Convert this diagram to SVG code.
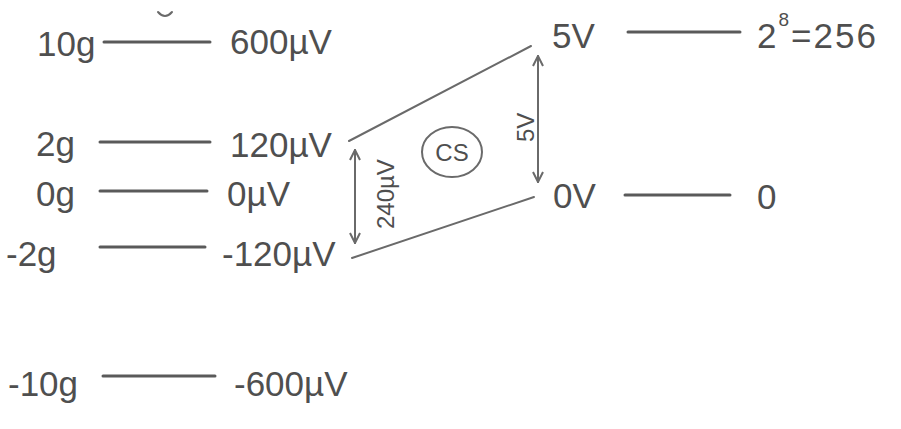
<svg xmlns="http://www.w3.org/2000/svg" width="901" height="429" viewBox="0 0 901 429">
<defs>
<style>
.t{font-family:"Liberation Sans","DejaVu Sans",sans-serif;fill:#4f4f4f;font-size:35px}
.s{font-family:"Liberation Sans","DejaVu Sans",sans-serif;fill:#4f4f4f;font-size:24px}
.ln{stroke:#5a5a5a;stroke-width:3;fill:none;stroke-linecap:round}
.th{stroke:#6a6a6a;stroke-width:2;fill:none;stroke-linecap:round}
</style>
<marker id="ah" viewBox="0 0 12 12" refX="11" refY="6" markerWidth="12" markerHeight="12" markerUnits="userSpaceOnUse" orient="auto-start-reverse">
<path d="M1,1 L11,6 L1,11" fill="none" stroke="#6a6a6a" stroke-width="2"/>
</marker>
</defs>
<rect width="901" height="429" fill="#ffffff"/>
<path d="M158,12 Q165,20 172,12" class="th"/>
<g id="g10">
<text class="t" x="37" y="56">10g</text>
<line class="ln" x1="104" y1="42" x2="210" y2="42"/>
<text class="t" x="230" y="54">600µV</text>
</g>
<g id="g2">
<text class="t" x="36" y="156">2g</text>
<line class="ln" x1="100" y1="142" x2="210" y2="142"/>
<text class="t" x="230" y="157">120µV</text>
</g>
<g id="g0">
<text class="t" x="36" y="206">0g</text>
<line class="ln" x1="100" y1="191" x2="207" y2="191"/>
<text class="t" x="227" y="206">0µV</text>
</g>
<g id="gm2">
<text class="t" x="6" y="266">-2g</text>
<line class="ln" x1="100" y1="247" x2="205" y2="247"/>
<text class="t" x="222" y="266">-120µV</text>
</g>
<g id="gm10">
<text class="t" x="8" y="396">-10g</text>
<line class="ln" x1="103" y1="376" x2="215" y2="376"/>
<text class="t" x="234" y="396">-600µV</text>
</g>
<g id="v5">
<text class="t" x="552" y="48">5V</text>
<line class="ln" x1="628" y1="32" x2="740" y2="32"/>
<text class="t" x="757" y="48" letter-spacing="2">2<tspan font-size="19" dy="-22">8</tspan><tspan dy="22">=256</tspan></text>
</g>
<g id="v0">
<text class="t" x="553" y="208">0V</text>
<line class="ln" x1="625" y1="195" x2="730" y2="195"/>
<text class="t" x="757" y="209">0</text>
</g>
<g id="cs">
<ellipse cx="452" cy="152" rx="30" ry="25" class="th"/>
<text class="s" x="452" y="161" text-anchor="middle" font-size="26">CS</text>
</g>
<g id="connectors">
<line class="th" x1="349" y1="141" x2="531" y2="46"/>
<line class="th" x1="352" y1="258" x2="534" y2="197"/>
<line class="th" x1="355" y1="150" x2="355" y2="243" marker-start="url(#ah)" marker-end="url(#ah)"/>
<line class="th" x1="538" y1="56" x2="538" y2="182" marker-start="url(#ah)" marker-end="url(#ah)"/>
<text class="s" transform="translate(394,229) rotate(-90)">240µV</text>
<text class="s" transform="translate(534,142) rotate(-90)">5V</text>
</g>
</svg>
